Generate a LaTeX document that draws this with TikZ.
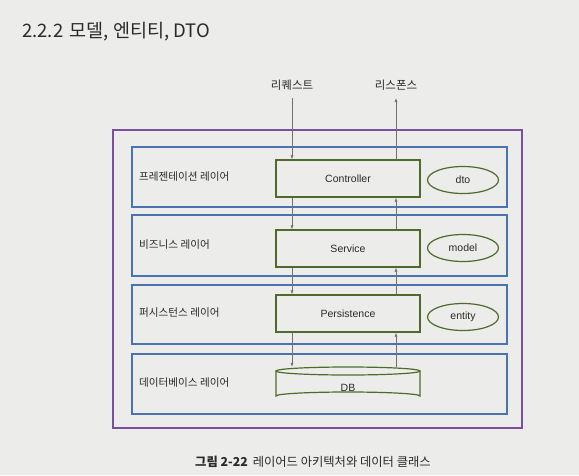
\documentclass[tikz,border=0pt]{standalone}
\usepackage{fontspec}
\setmainfont{Noto Sans CJK KR}
\newfontfamily\arialfont{Liberation Sans}
\usetikzlibrary{arrows.meta}
\definecolor{bgc}{HTML}{ECECEA}
\definecolor{purp}{HTML}{7B4F9E}
\definecolor{bluec}{HTML}{4A74B0}
\definecolor{greenc}{HTML}{4E6B2C}
\definecolor{linec}{HTML}{707070}
\definecolor{txt}{HTML}{2A2A2A}
\tikzset{
  outerbox/.style={draw=purp, line width=1.3pt},
  layerbox/.style={draw=bluec, line width=1.1pt},
  compbox/.style={draw=greenc, line width=1.2pt, minimum width=144pt, minimum height=37pt, inner sep=0pt, font=\arialfont\fontsize{10.5}{12}\selectfont, text=txt},
  dataell/.style={draw=greenc, line width=1.2pt, ellipse, minimum width=71pt, minimum height=27pt, inner sep=0pt, font=\arialfont\fontsize{10.5}{12}\selectfont, text=txt},
  layerlbl/.style={anchor=west, font=\fontsize{10.6}{12}\selectfont, text=txt, inner sep=0pt},
  flow/.style={draw=linec, line width=0.6pt, -{Latex[length=4pt,width=3pt]}},
  toplbl/.style={font=\fontsize{11.5}{13}\selectfont, text=txt, inner sep=0pt}
}
\usetikzlibrary{shapes.geometric}
\begin{document}
\begin{tikzpicture}[x=1pt,y=-1pt]
\fill[bgc] (0,0) rectangle (579,475);
\useasboundingbox (0,0) rectangle (579,475);

\node[anchor=west, inner sep=0pt, font=\fontsize{18.5}{21}\selectfont, text=txt] (title) at (22,32) {2.2.2\hspace{0.35em}모델, 엔티티, DTO};

% outer box
\node[outerbox, minimum width=409pt, minimum height=298pt, inner sep=0pt] (outer) at (317.5,279) {};

% layer boxes
\node[layerbox, minimum width=375pt, minimum height=60pt, inner sep=0pt] (L1) at (319.5,177) {};
\node[layerbox, minimum width=375pt, minimum height=61pt, inner sep=0pt] (L2) at (319.5,245.5) {};
\node[layerbox, minimum width=375pt, minimum height=59pt, inner sep=0pt] (L3) at (319.5,314.5) {};
\node[layerbox, minimum width=375pt, minimum height=60pt, inner sep=0pt] (L4) at (319.5,384) {};

\node[layerlbl] (l1t) at (139,177) {프레젠테이션 레이어};
\node[layerlbl] (l2t) at (139,245) {비즈니스 레이어};
\node[layerlbl] (l3t) at (139,313) {퍼시스턴스 레이어};
\node[layerlbl] (l4t) at (139,383) {데이터베이스 레이어};

% components
\node[compbox] (ctrl) at (348,178.5) {Controller};
\node[compbox] (svc) at (348,248.5) {Service};
\node[compbox] (pers) at (348,313.5) {Persistence};
\node[minimum width=144pt, minimum height=33pt, inner sep=0pt] (db) at (348,383.5) {};
\draw[greenc, line width=1.2pt] (348,371) ellipse [x radius=72, y radius=4];
\draw[greenc, line width=1.2pt] (276,371) -- (276,396) arc[start angle=180, end angle=360, x radius=72, y radius=4] -- (420,371);
\node[font=\arialfont\fontsize{10.5}{12}\selectfont, text=txt] (dbt) at (348,388) {DB};

% data classes
\node[dataell] (dto) at (463,180) {dto};
\node[dataell] (model) at (463,248) {model};
\node[dataell] (entity) at (463,317) {entity};

% request / response
\coordinate (req) at (292,98);
\coordinate (res) at (396,98);
\node[toplbl] (reqt) at (292,85) {리퀘스트};
\node[toplbl] (rest) at (396,85) {리스폰스};

\draw[flow] (req) -- (req |- ctrl.north);
\draw[flow] (req |- ctrl.south) -- (req |- svc.north);
\draw[flow] (req |- svc.south) -- (req |- pers.north);
\draw[flow] (req |- pers.south) -- (req |- db.north);

\draw[flow] (res |- db.north) -- (res |- pers.south);
\draw[flow] (res |- pers.north) -- (res |- svc.south);
\draw[flow] (res |- svc.north) -- (res |- ctrl.south);
\draw[flow] (res |- ctrl.north) -- (res);

% caption
\node[anchor=west, inner sep=0pt, font=\fontsize{12.3}{14}\selectfont, text=txt] (cap) at (195,462) {\textbf{그림 2-22}\hspace{0.4em}레이어드 아키텍처와 데이터 클래스};
\end{tikzpicture}
\end{document}
